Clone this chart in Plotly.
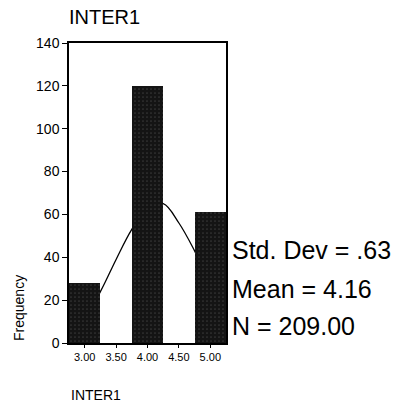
import plotly.graph_objects as go

# Data
bin_centers = [3.0, 3.5, 4.0, 4.5, 5.0]
frequencies = [28, 0, 120, 0, 61]
x_tick_vals = [3.0, 3.5, 4.0, 4.5, 5.0]
x_tick_text = ["3.00", "3.50", "4.00", "4.50", "5.00"]
y_tick_vals = [0, 20, 40, 60, 80, 100, 120, 140]

# Normal curve
curve_x = [2.75, 3.0, 3.25, 3.5, 3.75, 4.0, 4.25, 4.5, 4.75, 5.0, 5.25]
curve_y = [5, 12, 24, 39, 53, 63, 65, 56, 43, 28, 15]

stats_lines = ["Std. Dev = .63", "Mean = 4.16", "N = 209.00"]

FONT = "Liberation Sans, Arial, sans-serif"
X_RANGE = [2.75, 5.25]
Y_RANGE = [0, 140]

fig = go.Figure()
# curve on the base axes (drawn underneath)
fig.add_trace(go.Scatter(
    x=curve_x, y=curve_y, mode="lines",
    line=dict(color="black", width=1.3, shape="spline"),
    hoverinfo="skip", showlegend=False, xaxis="x", yaxis="y",
))
# bars on overlaying axes (drawn on top, hiding the curve)
fig.add_trace(go.Bar(
    x=bin_centers, y=frequencies, width=0.5,
    marker=dict(color="#141414", line=dict(width=0),
                pattern=dict(shape=".", fgcolor="#5a5a5a", bgcolor="#141414",
                             size=4, solidity=0.15)),
    showlegend=False, xaxis="x2", yaxis="y2",
))

fig.update_layout(
    width=394, height=404,
    margin=dict(l=69, r=168, t=43, b=61),
    paper_bgcolor="white", plot_bgcolor="white",
    bargap=0,
    font=dict(family=FONT, color="black"),
    title=dict(text="INTER1", x=69/394, xanchor="left", y=1 - 17/404, yanchor="middle",
               font=dict(size=20, family=FONT, color="black")),
    xaxis=dict(range=X_RANGE, tickvals=x_tick_vals, ticktext=x_tick_text,
               ticks="outside", ticklen=3, tickcolor="black", tickwidth=1,
               showline=True, linecolor="black", linewidth=1.5, mirror=True,
               showgrid=False, zeroline=False,
               tickfont=dict(size=11, family=FONT, color="black")),
    yaxis=dict(range=Y_RANGE, tickvals=y_tick_vals,
               ticks="outside", ticklen=5, tickcolor="black", tickwidth=1,
               showline=True, linecolor="black", linewidth=1.5, mirror=True,
               showgrid=False, zeroline=False,
               tickfont=dict(size=14, family=FONT, color="black")),
    xaxis2=dict(range=X_RANGE, overlaying="x", visible=False),
    yaxis2=dict(range=Y_RANGE, overlaying="y", visible=False),
)

# Axis titles placed as annotations (positioned like the reference)
fig.add_annotation(text="Frequency", xref="paper", yref="paper",
                   x=-50/157, y=(343-308)/300, textangle=-90,
                   showarrow=False, xanchor="center", yanchor="middle",
                   font=dict(size=14, family=FONT, color="black"))
fig.add_annotation(text="INTER1", xref="paper", yref="paper",
                   x=0, y=-(395-343)/300, showarrow=False,
                   xanchor="left", yanchor="middle",
                   font=dict(size=14, family=FONT, color="black"))

stat_y = [250, 289, 326]
for txt, py in zip(stats_lines, stat_y):
    fig.add_annotation(text=txt, xref="paper", yref="paper",
                       x=1 + 4/157, y=(343-py)/300, showarrow=False,
                       xanchor="left", yanchor="middle",
                       font=dict(size=25, family=FONT, color="black"))

fig.write_html("out.html")
